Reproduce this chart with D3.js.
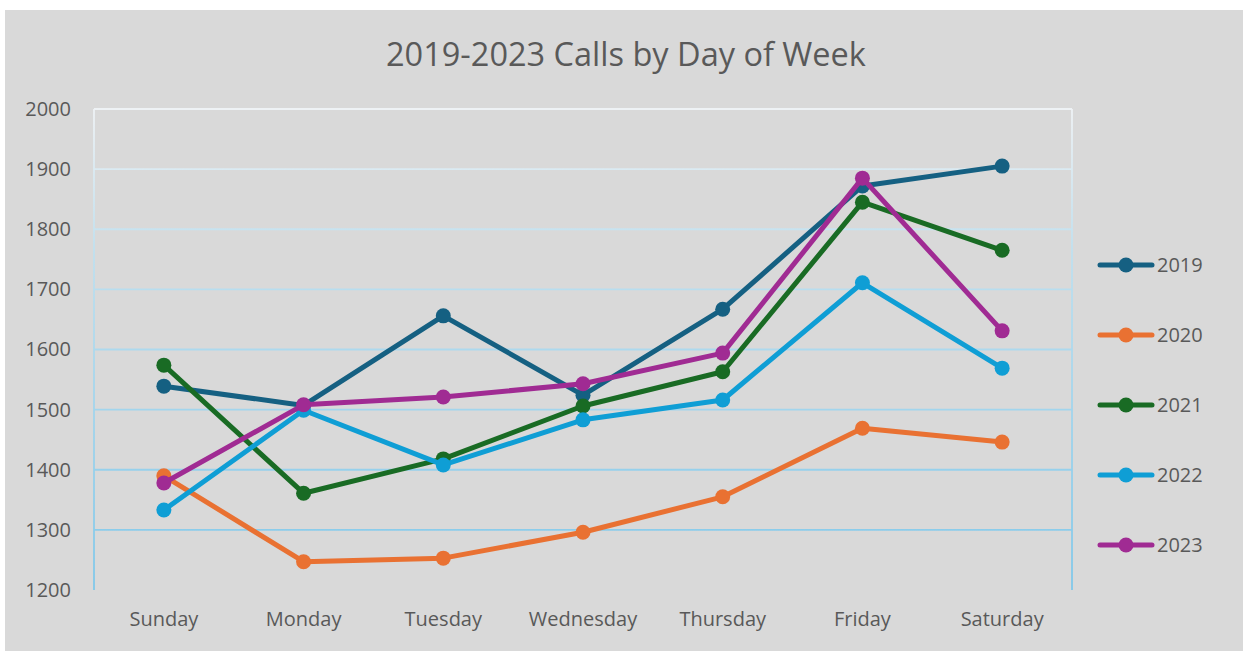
<!DOCTYPE html>
<html>
<head>
<meta charset="utf-8">
<script src="https://cdn.jsdelivr.net/npm/d3@7"></script>
<style>
  body { margin: 0; background: #fff; }
  text { font-family: "Open Sans", "Liberation Sans", sans-serif; fill: #595959; }
</style>
</head>
<body>
<div id="chart"></div>
<script>
var days = ['Sunday', 'Monday', 'Tuesday', 'Wednesday', 'Thursday', 'Friday', 'Saturday'];
var years = ['2019', '2020', '2021', '2022', '2023'];
var colors = ['#156082', '#E97132', '#196B24', '#0F9ED5', '#A02B93'];
var calls2019 = [1539, 1507, 1656, 1524, 1667, 1872, 1905];
var calls2020 = [1390, 1247, 1253, 1296, 1355, 1469, 1446];
var calls2021 = [1574, 1361, 1418, 1506, 1563, 1845, 1765];
var calls2022 = [1333, 1499, 1408, 1483, 1516, 1711, 1569];
var calls2023 = [1378, 1508, 1521, 1543, 1594, 1885, 1631];
var yTicks = [1200, 1300, 1400, 1500, 1600, 1700, 1800, 1900, 2000];

var series = [calls2019, calls2020, calls2021, calls2022, calls2023].map(function(values, i) {
	return { year: years[i], color: colors[i], values: values };
});

var width = 1243, height = 656;
var plot = { left: 94, right: 1072, top: 109, bottom: 590 };

var svg = d3.select('#chart').append('svg')
	.attr('width', width)
	.attr('height', height);

// grid gradient: whitish at top, light blue at bottom
var grad = svg.append('defs').append('linearGradient')
	.attr('id', 'gridGrad')
	.attr('gradientUnits', 'userSpaceOnUse')
	.attr('x1', 0).attr('y1', plot.top)
	.attr('x2', 0).attr('y2', plot.bottom);
grad.append('stop').attr('offset', '0%').attr('stop-color', '#eef2f5');
grad.append('stop').attr('offset', '30%').attr('stop-color', '#bfe0ef');
grad.append('stop').attr('offset', '100%').attr('stop-color', '#80c8ea');

// background
svg.append('rect')
	.attr('x', 5).attr('y', 10)
	.attr('width', width - 5).attr('height', 641)
	.attr('fill', '#d9d9d9');

var x = d3.scaleBand()
	.domain(days)
	.range([plot.left, plot.right]);

var y = d3.scaleLinear()
	.domain([1200, 2000])
	.range([plot.bottom, plot.top]);

// horizontal grid lines (no line at the bottom)
svg.append('g')
	.selectAll('line')
	.data(yTicks.filter(function(t) { return t > 1200; }))
	.enter()
	.append('line')
	.attr('x1', plot.left).attr('x2', plot.right)
	.attr('y1', function(d) { return y(d); })
	.attr('y2', function(d) { return y(d); })
	.attr('stroke', 'url(#gridGrad)')
	.attr('stroke-width', 1.8);

// side borders
svg.append('g')
	.selectAll('line')
	.data([plot.left, plot.right])
	.enter()
	.append('line')
	.attr('x1', function(d) { return d; }).attr('x2', function(d) { return d; })
	.attr('y1', plot.top).attr('y2', plot.bottom)
	.attr('stroke', 'url(#gridGrad)')
	.attr('stroke-width', 1.8);

// y axis labels
var yAxis = svg.append('g')
	.attr('transform', 'translate(' + (plot.left - 23) + ',0)')
	.call(d3.axisLeft(y).tickValues(yTicks).tickFormat(d3.format('d')).tickSize(0).tickPadding(0));
yAxis.select('.domain').remove();
yAxis.selectAll('text')
	.attr('font-size', 20)
	.attr('font-family', null)
	.attr('fill', '#595959');

// x axis labels
var xAxis = svg.append('g')
	.attr('transform', 'translate(0,' + (plot.bottom + 22) + ')')
	.call(d3.axisBottom(x).tickSize(0).tickPadding(0));
xAxis.select('.domain').remove();
xAxis.selectAll('text')
	.attr('font-size', 20)
	.attr('font-family', null)
	.attr('fill', '#595959')
	.attr('dy', '0.71em');

// title
svg.append('text')
	.attr('x', 626)
	.attr('y', 66)
	.attr('text-anchor', 'middle')
	.attr('font-size', 32.5)
	.text('2019-2023 Calls by Day of Week');

var line = d3.line()
	.x(function(d, i) { return x(days[i]) + x.bandwidth() / 2; })
	.y(function(d) { return y(d); });

var groups = svg.append('g')
	.selectAll('g.series')
	.data(series)
	.enter()
	.append('g')
	.attr('class', 'series');

groups.append('path')
	.attr('d', function(d) { return line(d.values); })
	.attr('fill', 'none')
	.attr('stroke', function(d) { return d.color; })
	.attr('stroke-width', 5)
	.attr('stroke-linejoin', 'round');

groups.selectAll('circle')
	.data(function(d) { return d.values.map(function(v) { return { v: v, color: d.color }; }); })
	.enter()
	.append('circle')
	.attr('cx', function(d, i) { return x(days[i]) + x.bandwidth() / 2; })
	.attr('cy', function(d) { return y(d.v); })
	.attr('r', 7.5)
	.attr('fill', function(d) { return d.color; });

// legend
var legend = svg.append('g')
	.selectAll('g')
	.data(series)
	.enter()
	.append('g')
	.attr('transform', function(d, i) { return 'translate(1098,' + (265 + i * 70) + ')'; });

legend.append('line')
	.attr('x1', 2).attr('x2', 54)
	.attr('stroke', function(d) { return d.color; })
	.attr('stroke-width', 5)
	.attr('stroke-linecap', 'round');

legend.append('circle')
	.attr('cx', 28)
	.attr('r', 7.5)
	.attr('fill', function(d) { return d.color; });

legend.append('text')
	.attr('x', 59)
	.attr('dy', '0.35em')
	.attr('font-size', 20)
	.text(function(d) { return d.year; });
</script>
</body>
</html>
